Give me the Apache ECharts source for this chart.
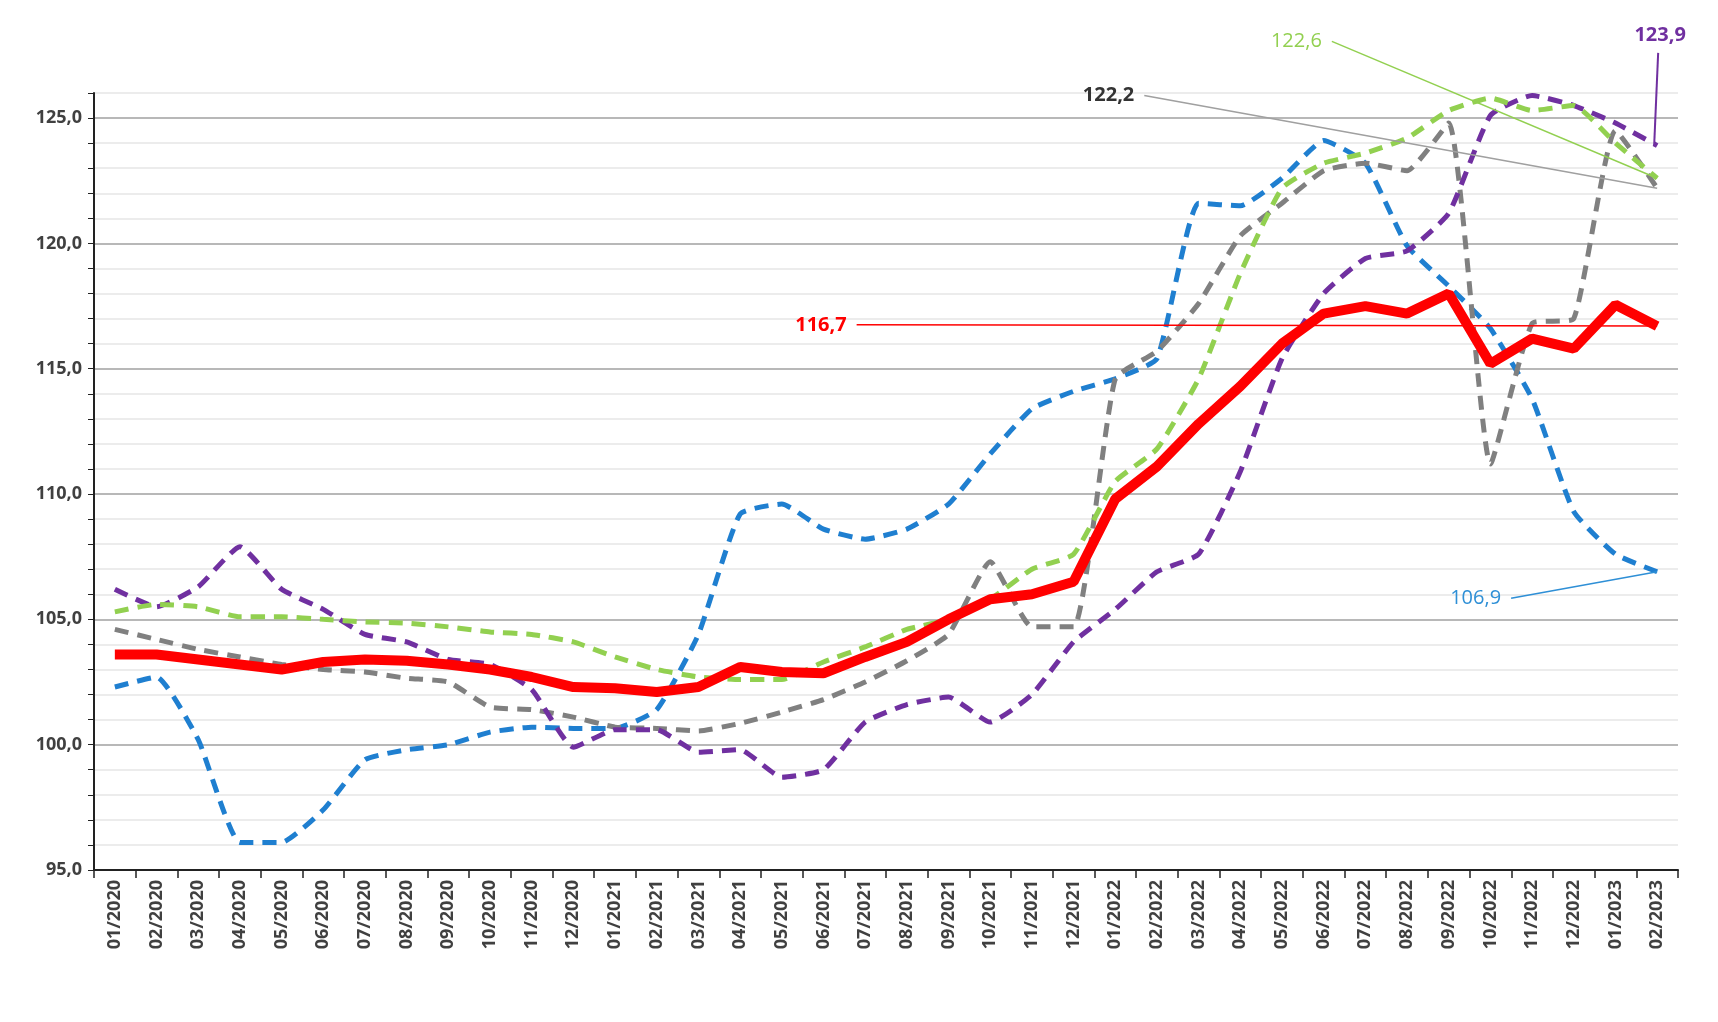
<!DOCTYPE html>
<html><head><meta charset="utf-8">
<script src="https://cdn.jsdelivr.net/npm/echarts@6/dist/echarts.min.js"></script>
<style>html,body{margin:0;padding:0;background:#fff}#c{width:1718px;height:1022px}</style>
</head><body><div id="c"></div>
<script>
const months = [];
for (let y = 2020; y <= 2023; y++) for (let m = 1; m <= 12; m++) { if (y === 2023 && m > 2) break; months.push(String(m).padStart(2,'0') + '/' + y); }
const redSeries = [103.6,103.6,103.4,103.2,103.0,103.3,103.4,103.35,103.2,103.0,102.7,102.3,102.25,102.1,102.3,103.1,102.9,102.85,103.5,104.1,105.0,105.8,106.0,106.5,109.8,111.1,112.8,114.3,116.0,117.2,117.5,117.2,118.0,115.2,116.2,115.8,117.55,116.7];
const blueSeries = [102.3,102.7,100.2,96.1,96.1,97.4,99.4,99.8,100.0,100.5,100.7,100.65,100.65,101.4,104.4,109.2,109.6,108.6,108.2,108.6,109.6,111.6,113.4,114.1,114.6,115.4,121.6,121.5,122.6,124.1,123.2,119.9,118.3,116.6,113.8,109.3,107.6,106.9];
const greenSeries = [105.3,105.6,105.5,105.1,105.1,105.0,104.9,104.85,104.7,104.5,104.4,104.1,103.5,103.0,102.7,102.6,102.6,103.3,103.9,104.6,105.0,105.8,107.0,107.6,110.5,111.8,114.6,118.8,122.2,123.2,123.6,124.2,125.3,125.8,125.3,125.5,124.0,122.6];
const graySeries = [104.6,104.2,103.8,103.5,103.2,103.0,102.9,102.65,102.5,101.5,101.4,101.1,100.7,100.65,100.55,100.85,101.3,101.8,102.5,103.35,104.4,107.3,104.7,104.7,114.6,115.7,117.6,120.3,121.6,122.9,123.2,122.9,124.8,111.2,116.8,117.0,124.5,122.2];
const purpleSeries = [106.2,105.5,106.3,107.9,106.2,105.4,104.4,104.1,103.4,103.2,102.2,99.9,100.6,100.6,99.7,99.8,98.7,99.0,100.9,101.6,101.9,100.9,102.0,104.1,105.4,106.9,107.6,110.9,115.4,118.0,119.4,119.7,121.2,125.1,125.9,125.5,124.8,123.9];
const callouts = [
  {text:'116,7', color:'#ff0000', bold:true, fromIdx:17.7, fromVal:116.75, toVal:116.7, lineColor:'#ff0000'},
  {text:'122,2', color:'#333333', bold:true, fromIdx:24.6, fromVal:125.9, toVal:122.2, lineColor:'#a0a0a0'},
  {text:'122,6', color:'#92d050', bold:false, fromIdx:29.1, fromVal:128.06, toVal:122.6, lineColor:'#92d050'},
  {text:'106,9', color:'#2e8fd6', bold:false, fromIdx:33.4, fromVal:105.84, toVal:106.9, lineColor:'#2e8fd6'}
];
const chart = echarts.init(document.getElementById('c'));
const dashed = (name, data, color) => ({name, type:'line', data, symbol:'none', smooth:0.15, z:2,
  lineStyle:{color, width:5, type:[14,9]}});
chart.setOption({
  animation:false,
  grid:{left:94, right:40, top:93, bottom:152},
  xAxis:{type:'category', data:months, boundaryGap:true,
    axisLine:{lineStyle:{color:'#222', width:2}},
    axisTick:{show:true, interval:0, length:8, lineStyle:{color:'#222', width:1.5}},
    axisLabel:{rotate:90, interval:0, color:'#404040', fontWeight:'bold', fontSize:18, fontFamily:'Open Sans', margin:10}},
  yAxis:{type:'value', min:95, max:126, interval:1,
    axisLine:{show:true, lineStyle:{color:'#222', width:2}},
    axisTick:{show:true, length:6, inside:false, lineStyle:{color:'#222'}},
    axisLabel:{color:'#404040', fontWeight:'bold', fontSize:18, fontFamily:'Open Sans', margin:12,
      formatter:v => (v % 5 === 0 ? v.toFixed(1).replace('.', ',') : '')},
    splitLine:{lineStyle:{color:['#b8b8b8','#ececec','#ececec','#ececec','#ececec'], width:2}}},
  series:[
    dashed('blue', blueSeries, '#1f7fd0'),
    dashed('gray', graySeries, '#808080'),
    dashed('purple', purpleSeries, '#7030a0'),
    dashed('green', greenSeries, '#92d050'),
    {name:'red', type:'line', data:redSeries, symbol:'none', z:5, lineStyle:{color:'#ff0000', width:10}}
  ]
});
const p0 = chart.convertToPixel({xAxisIndex:0, yAxisIndex:0}, [0, 100]);
const p1 = chart.convertToPixel({xAxisIndex:0, yAxisIndex:0}, [1, 100]);
const step = p1[0] - p0[0];
const px = i => p0[0] + i * step;
const py = v => chart.convertToPixel({yAxisIndex:0}, v);
const last = months.length - 1;
const g = [];
callouts.forEach(c => {
  const x1 = px(c.fromIdx), y1 = py(c.fromVal);
  g.push({type:'line', shape:{x1:x1+4, y1, x2:px(last), y2:py(c.toVal)}, style:{stroke:c.lineColor, lineWidth:1.5}, z:10});
  g.push({type:'text', x:x1-6, y:y1, style:{text:c.text, fill:c.color, font:(c.bold?'bold ':'')+'20px "Open Sans"', align:'right', verticalAlign:'middle'}, z:10});
});
const lx = px(last) - 3;
g.push({type:'line', shape:{x1:lx+4, y1:py(127.6), x2:lx, y2:py(123.9)}, style:{stroke:'#7030a0', lineWidth:2}, z:10});
g.push({type:'text', x:lx+6, y:py(128.3), style:{text:'123,9', fill:'#7030a0', font:'bold 20px "Open Sans"', align:'center', verticalAlign:'middle'}, z:10});
chart.setOption({graphic:g});
</script></body></html>
